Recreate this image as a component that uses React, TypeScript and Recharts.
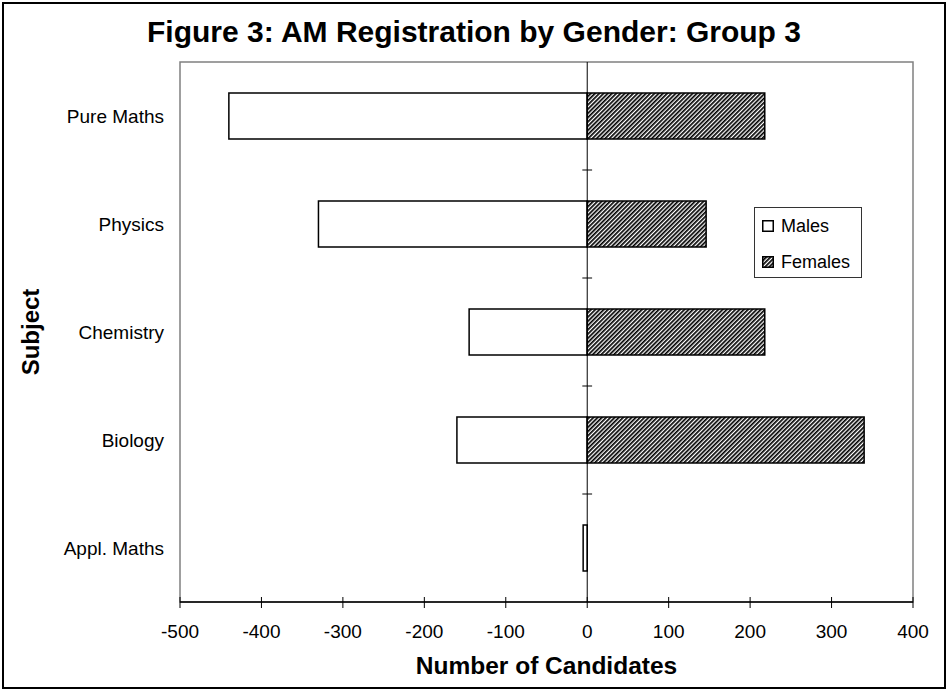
import React from 'react';
import { BarChart, Bar, XAxis, YAxis, ReferenceLine, ReferenceArea, Legend, Label } from 'recharts';

const categories = ['Pure Maths', 'Physics', 'Chemistry', 'Biology', 'Appl. Maths'];
const males = [-440, -330, -145, -160, -5];
const females = [218, 146, 218, 340, 0];
const xTicks = [-500, -400, -300, -200, -100, 0, 100, 200, 300, 400];
const seriesNames = ['Males', 'Females'];

const data = categories.map((c, i) => ({ subject: c, Males: males[i], Females: females[i] }));

const FONT = '"Liberation Sans", Arial, sans-serif';
const TICK_SIZE = 6;
const TICK_MARGIN = 17;
const seriesFill: Record<string, string> = { Males: '#ffffff', Females: 'url(#hatch)' };

const XTick = (props: any) => {
  const { x, y, payload } = props;
  const axisY = y - TICK_SIZE - TICK_MARGIN;
  return (
    <g>
      <line x1={x} x2={x} y1={axisY - 5} y2={axisY + 6} stroke="#000" strokeWidth={1} />
      <text x={x} y={y} dy="0.71em" textAnchor="middle" fontSize={19} fill="#000" fontFamily={FONT}>
        {payload.value}
      </text>
    </g>
  );
};

const LegendBox = (props: any) => {
  const payload = [...(props.payload || [])].sort(
    (a: any, b: any) => seriesNames.indexOf(a.value) - seriesNames.indexOf(b.value)
  );
  return (
    <div
      style={{
        width: 108,
        height: 71,
        border: '1px solid #333',
        boxSizing: 'border-box',
        background: '#fff',
        fontFamily: FONT,
        fontSize: 18,
        color: '#000',
      }}
    >
      {payload.map((entry: any) => (
        <div key={entry.value} style={{ display: 'flex', alignItems: 'center', height: 36, paddingLeft: 7 }}>
          <svg width={12} height={12} style={{ display: 'block' }}>
            <rect x={0.75} y={0.75} width={10.5} height={10.5} fill={seriesFill[entry.value]} stroke="#000" strokeWidth={1.5} />
          </svg>
          <span style={{ marginLeft: 7 }}>{entry.value}</span>
        </div>
      ))}
    </div>
  );
};

export default function App() {
  return (
    <div style={{ position: 'absolute', left: 0, top: 0, width: 948, height: 691, background: '#fff', fontFamily: FONT }}>
      <svg width={0} height={0} style={{ position: 'absolute' }}>
        <defs>
          <pattern id="hatch" patternUnits="userSpaceOnUse" width={3} height={3} patternTransform="rotate(45)">
            <rect width={3} height={3} fill="#fff" />
            <rect width={1.7} height={3} fill="#000" />
          </pattern>
        </defs>
      </svg>
      <div
        style={{
          position: 'absolute',
          left: 0,
          top: 17,
          width: 948,
          textAlign: 'center',
          fontSize: 30,
          lineHeight: '29px',
          fontWeight: 'bold',
          color: '#000',
        }}
      >
        Figure 3: AM Registration by Gender: Group 3
      </div>
      <BarChart
        width={948}
        height={691}
        data={data}
        layout="vertical"
        stackOffset="sign"
        margin={{ top: 62, right: 35, left: 0, bottom: 0 }}
      >
        <XAxis
          type="number"
          domain={[-500, 400]}
          ticks={xTicks}
          allowDataOverflow
          height={89}
          axisLine={{ stroke: '#000', strokeWidth: 1.5 }}
          tickLine={false}
          tickSize={TICK_SIZE}
          tickMargin={TICK_MARGIN}
          tick={<XTick />}
        >
          <Label
            value="Number of Candidates"
            position="insideBottom"
            offset={17}
            style={{ fontSize: 24.5, fontWeight: 'bold', fill: '#000', fontFamily: FONT }}
          />
        </XAxis>
        <YAxis
          yAxisId="cat"
          type="category"
          dataKey="subject"
          width={180}
          axisLine={false}
          tickLine={false}
          tickSize={0}
          tickMargin={16}
          tick={{ fill: '#000', fontSize: 19, fontFamily: FONT }}
        >
          <Label
            value="Subject"
            angle={-90}
            position="insideLeft"
            offset={30}
            style={{ textAnchor: 'middle', fontSize: 24, fontWeight: 'bold', fill: '#000', fontFamily: FONT }}
          />
        </YAxis>
        <ReferenceArea
          yAxisId="cat"
          x1={-500}
          x2={400}
          fill="none"
          fillOpacity={0}
          stroke="#808080"
          strokeWidth={1.5}
          ifOverflow="visible"
        />
        <Bar
          yAxisId="cat"
          dataKey="Males"
          stackId="g"
          barSize={46}
          fill="#ffffff"
          stroke="#000"
          strokeWidth={1.5}
          isAnimationActive={false}
        />
        <Bar
          yAxisId="cat"
          dataKey="Females"
          stackId="g"
          barSize={46}
          fill="url(#hatch)"
          stroke="#000"
          strokeWidth={1.5}
          isAnimationActive={false}
        />
        <ReferenceLine yAxisId="cat" x={0} stroke="#000" strokeWidth={1} />
        {categories.slice(1).map((c) => (
          <ReferenceLine
            key={c}
            yAxisId="cat"
            position="start"
            segment={[
              { x: -6, y: c },
              { x: 6, y: c },
            ]}
            stroke="#000"
            strokeWidth={1}
          />
        ))}
        <Legend
          layout="vertical"
          align="center"
          verticalAlign="middle"
          content={<LegendBox />}
          wrapperStyle={{ left: 754, top: 207, width: 108, height: 71 }}
        />
      </BarChart>
      <div
        style={{
          position: 'absolute',
          left: 2,
          top: 2,
          width: 944,
          height: 687,
          border: '2px solid #000',
          boxSizing: 'border-box',
          pointerEvents: 'none',
        }}
      />
    </div>
  );
}
